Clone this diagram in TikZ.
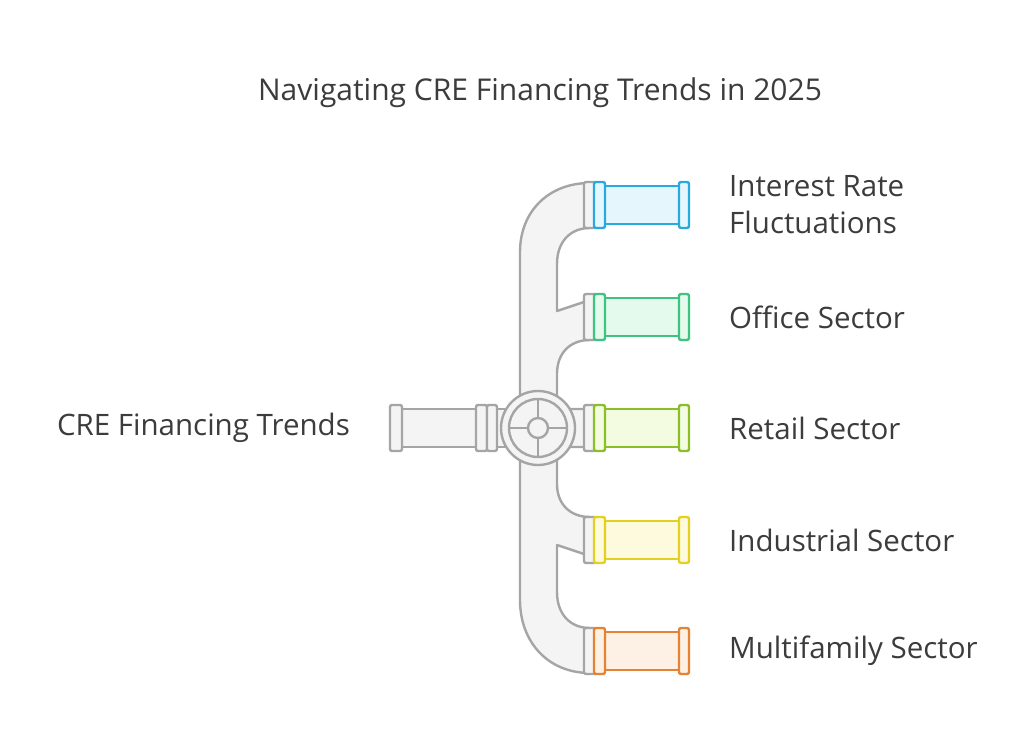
\documentclass[tikz,border=0pt]{standalone}
\usepackage{fontspec}
\setmainfont{Open Sans}
\begin{document}
\begin{tikzpicture}[x=1pt,y=-1pt,line join=round,
  pipe/.style={draw=pgray,fill=pfill,line width=2.4pt},
  lbl/.style={text=txt,font=\fontsize{29.5}{37}\selectfont,anchor=west,align=left,inner sep=0pt}]
\definecolor{pgray}{RGB}{165,165,165}
\definecolor{pfill}{RGB}{244,244,244}
\definecolor{txt}{RGB}{60,60,60}
\definecolor{cA}{RGB}{40,170,222}\definecolor{fA}{RGB}{230,246,253}
\definecolor{cB}{RGB}{62,196,128}\definecolor{fB}{RGB}{228,250,237}
\definecolor{cC}{RGB}{140,190,40}\definecolor{fC}{RGB}{243,252,225}
\definecolor{cD}{RGB}{228,208,30}\definecolor{fD}{RGB}{254,250,222}
\definecolor{cE}{RGB}{230,130,52}\definecolor{fE}{RGB}{253,240,228}
\useasboundingbox (0,0) rectangle (1024,751);
\fill[white] (0,0) rectangle (1024,751);
% main pipe body
\draw[pipe] (590,183) .. controls (548,183) and (520,212) .. (520,252)
 -- (520,600) .. controls (520,642) and (548,673) .. (590,673)
 -- (590,628) .. controls (570,628) and (557,614) .. (557,592)
 -- (557,545) -- (590,556) -- (590,517) .. controls (570,517) and (557,504) .. (557,484)
 -- (557,447) -- (590,447) -- (590,409) -- (557,409)
 -- (557,374) .. controls (557,353) and (570,340) .. (590,340)
 -- (590,300) -- (557,311) -- (557,264) .. controls (557,242) and (570,228) .. (590,228) -- cycle;
% left pipe
\draw[pipe] (400,409) rectangle (505,447);
\draw[pipe,rounded corners=2pt] (390,405) rectangle (402,451);
\draw[pipe,rounded corners=2pt] (476,405) rectangle (487,451);
\draw[pipe,rounded corners=2pt] (487,405) rectangle (497,451);
% valve
\draw[pipe] (538,428) circle (37);
\draw[pipe] (538,428) circle (29);
\draw[draw=pgray,line width=2.4pt] (509,428) -- (567,428) (538,399) -- (538,457);
\draw[pipe] (538,428) circle (10);
% branches
\foreach \y/\c/\f in {205/cA/fA,317/cB/fB,428/cC/fC,540/cD/fD,651/cE/fE}{
  \draw[pipe,rounded corners=2pt] (584,\y-23) rectangle (596,\y+23);
  \draw[draw=\c,fill=\f,line width=2.4pt] (604,\y-19) rectangle (680,\y+19);
  \draw[draw=\c,fill=\f,line width=2.4pt,rounded corners=2pt] (594,\y-23) rectangle (605,\y+23);
  \draw[draw=\c,fill=\f,line width=2.4pt,rounded corners=2pt] (679,\y-23) rectangle (689,\y+23);
}
% texts
\node[text=txt,font=\fontsize{30}{37}\selectfont] (title) at (540,93) {Navigating CRE Financing Trends in 2025};
\node[lbl] (t1) at (729,205) {Interest Rate\\Fluctuations};
\node[lbl] (t2) at (729,317) {Office Sector};
\node[lbl] (t3) at (729,428) {Retail Sector};
\node[lbl] (t4) at (729,540) {Industrial Sector};
\node[lbl] (t5) at (729,651) {Multifamily Sector};
\node[text=txt,font=\fontsize{29.5}{37}\selectfont,anchor=east,inner sep=0pt] (src) at (350,428) {CRE Financing Trends};
\end{tikzpicture}
\end{document}
